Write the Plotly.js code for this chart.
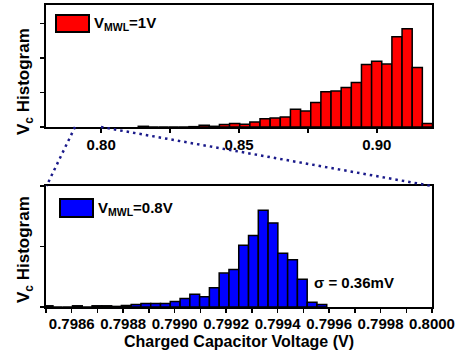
<!DOCTYPE html>
<html>
<head>
<meta charset="utf-8">
<script src="https://cdn.plot.ly/plotly-3.0.1.min.js"></script>
<style>html,body{margin:0;padding:0;background:#fff}#chart{width:459px;height:358px}</style>
</head>
<body>
<div id="chart"></div>
<script>
// Top histogram (V_MWL = 1V): bin centers (V) and counts (arbitrary units)
const topBinCenters = [0.81530,0.81898,0.82266,0.82634,0.83002,0.83370,0.83738,0.84106,0.84474,0.84842,
  0.85210,0.85578,0.85946,0.86314,0.86682,0.87050,0.87418,0.87786,0.88154,0.88522,
  0.88890,0.89258,0.89626,0.89994,0.90362,0.90730,0.91098,0.91466,0.91834];
const topCounts = [0.02,0,0,0,0,0.01,0.05,0.02,0.07,0.10,
  0.08,0.145,0.24,0.26,0.29,0.51,0.46,0.71,1.02,1.04,
  1.14,1.29,1.81,1.90,1.82,2.61,2.84,1.72,0.10];

// Bottom histogram (V_MWL = 0.8V)
const botBinCenters = [0.798508,0.798546,0.798584,0.798622,0.798660,0.798698,0.798736,0.798774,0.798812,0.798850,
  0.798888,0.798926,0.798964,0.799002,0.799040,0.799078,0.799116,0.799154,0.799192,0.799230,
  0.799268,0.799306,0.799344,0.799382,0.799420,0.799458,0.799496,0.799534,0.799572];
const botCounts = [0.02,0,0,0.02,0,0.02,0.02,0.01,0.025,0.04,
  0.057,0.057,0.057,0.09,0.14,0.21,0.17,0.32,0.56,0.62,
  1.02,1.18,1.60,1.39,0.89,0.78,0.46,0.08,0.04];

const topTickVals = [0.80, 0.85, 0.90];
const topTickText = ['0.80', '0.85', '0.90'];
const topMinorVals = [0.825, 0.875];
const botTickVals = [0.7986, 0.7988, 0.7990, 0.7992, 0.7994, 0.7996, 0.7998, 0.8000];
const botTickText = ['0.7986', '0.7988', '0.7990', '0.7992', '0.7994', '0.7996', '0.7998', '0.8000'];

const legendTop = 'V<sub>MWL</sub>=1V';
const legendBot = 'V<sub>MWL</sub>=0.8V';
const sigmaText = '\u03c3 = 0.36mV';
const yTitle = 'V<sub>c</sub> Histogram';
const xTitle = 'Charged Capacitor Voltage (V)';

const FONT = {family: 'Liberation Sans, Arial, sans-serif', size: 15, color: '#000', weight: 'bold'};
const FONT16 = {family: FONT.family, size: 16, color: '#000', weight: 'bold'};
const FONTY = {family: FONT.family, size: 17, color: '#000', weight: 'bold'};

const traces = [
  {type: 'bar', x: topBinCenters, y: topCounts, xaxis: 'x', yaxis: 'y', name: legendTop,
   marker: {color: '#ff0000', line: {color: '#000', width: 1.5}}, showlegend: false, hoverinfo: 'skip'},
  {type: 'bar', x: botBinCenters, y: botCounts, xaxis: 'x2', yaxis: 'y2', name: legendBot,
   marker: {color: '#0000ff', line: {color: '#000', width: 1.5}}, showlegend: false, hoverinfo: 'skip'}
];

const W = 459, H = 358, L = 46, R = 27, T = 5, B = 51;
const pw = W - L - R, ph = H - T - B;
const px = v => (v - L) / pw;
const py = v => (H - B - v) / ph;

const axCommon = {showline: true, linecolor: '#000', linewidth: 2, mirror: true, ticks: 'outside',
  ticklen: 4, tickwidth: 1.5, tickcolor: '#000', showgrid: false, zeroline: false, tickfont: FONT, fixedrange: true};
const mirrorAx = {showline: false, ticks: 'inside', ticklen: 4, tickwidth: 1.5, tickcolor: '#000',
  showgrid: false, zeroline: false, showticklabels: false, side: 'top', fixedrange: true};

const layout = {
  width: W, height: H,
  margin: {l: L, r: R, t: T, b: B},
  paper_bgcolor: '#fff', plot_bgcolor: '#fff',
  bargap: 0,
  showlegend: false,
  font: FONT,
  xaxis: Object.assign({}, axCommon, {domain: [0, 1], anchor: 'y', range: [0.78, 0.92],
    tickvals: topTickVals, ticktext: topTickText, ticklabelstandoff: -1,
    minor: {tickvals: topMinorVals, ticks: 'outside', ticklen: 4, tickwidth: 1.5, tickcolor: '#000'}}),
  xaxis3: Object.assign({}, mirrorAx, {overlaying: 'x', anchor: 'y', range: [0.78, 0.92],
    tickvals: topTickVals.concat(topMinorVals)}),
  yaxis: Object.assign({}, axCommon, {domain: [py(127), 1], anchor: 'x', range: [0, 3.53], dtick: 1, showticklabels: false}),
  xaxis2: Object.assign({}, axCommon, {domain: [0, 1], anchor: 'y2', range: [0.7985, 0.8000],
    tickvals: botTickVals, ticktext: botTickText, ticklabelstandoff: -2,
    minor: {dtick: 0.0001, tick0: 0.7985, ticks: 'outside', ticklen: 4, tickwidth: 1.5, tickcolor: '#000'},
    title: {text: xTitle, font: FONT16, standoff: 5}}),
  xaxis4: Object.assign({}, mirrorAx, {overlaying: 'x2', anchor: 'y2', range: [0.7985, 0.8000],
    dtick: 0.0001, tick0: 0.7985}),
  yaxis2: Object.assign({}, axCommon, {domain: [0, py(186)], anchor: 'x2', range: [0, 2], dtick: 1, showticklabels: false}),
  shapes: [
    {type: 'rect', xref: 'paper', yref: 'paper', x0: px(56), x1: px(89), y0: py(32), y1: py(15),
     fillcolor: '#ff0000', line: {color: '#000', width: 2}},
    {type: 'rect', xref: 'paper', yref: 'paper', x0: px(60), x1: px(93), y0: py(217), y1: py(199),
     fillcolor: '#0000ff', line: {color: '#000', width: 2}},
    {type: 'line', xref: 'paper', yref: 'paper', x0: px(75), y0: py(127), x1: px(46.5), y1: py(186),
     line: {color: '#1a1a8a', width: 2.5, dash: '2.5px,4px'}},
    {type: 'line', xref: 'paper', yref: 'paper', x0: px(101), y0: py(127), x1: px(432), y1: py(186),
     line: {color: '#1a1a8a', width: 2.5, dash: '2.5px,4px'}}
  ],
  annotations: [
    {xref: 'paper', yref: 'paper', x: px(92), y: py(24), xanchor: 'left', yanchor: 'middle', showarrow: false,
     text: legendTop, font: FONT},
    {xref: 'paper', yref: 'paper', x: px(96), y: py(208), xanchor: 'left', yanchor: 'middle', showarrow: false,
     text: legendBot, font: FONT},
    {xref: 'paper', yref: 'paper', x: px(354), y: py(282), xanchor: 'center', yanchor: 'middle', showarrow: false,
     text: sigmaText, font: FONT},
    {xref: 'paper', yref: 'paper', x: px(25), y: py(82), xanchor: 'center', yanchor: 'middle', showarrow: false,
     textangle: -90, text: yTitle, font: FONTY},
    {xref: 'paper', yref: 'paper', x: px(25), y: py(250), xanchor: 'center', yanchor: 'middle', showarrow: false,
     textangle: -90, text: yTitle, font: FONTY}
  ]
};

Plotly.newPlot('chart', traces, layout, {staticPlot: true, displayModeBar: false});
</script>
</body>
</html>
